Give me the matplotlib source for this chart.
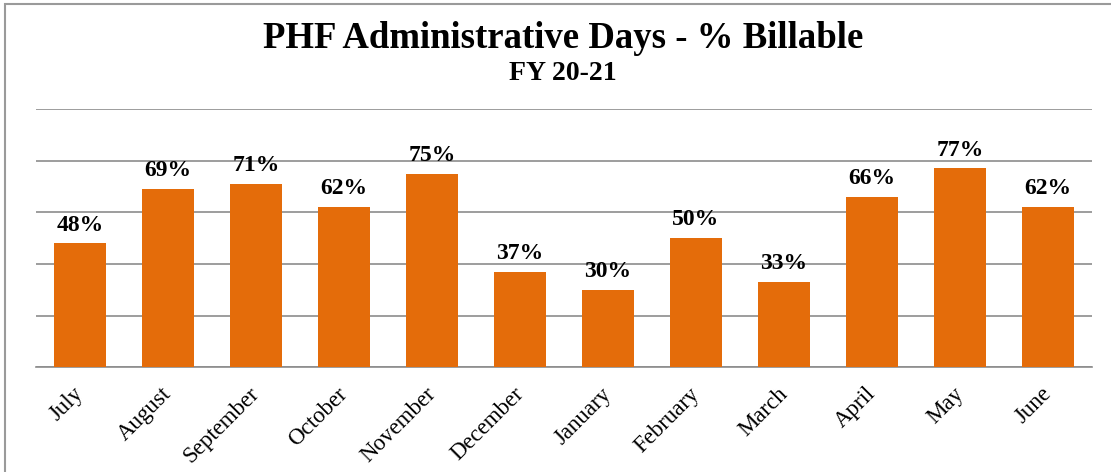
import matplotlib.pyplot as plt
import matplotlib.transforms as mtransforms
from matplotlib.patches import Rectangle

months = ['July', 'August', 'September', 'October', 'November', 'December',
          'January', 'February', 'March', 'April', 'May', 'June']
billable = [48, 69, 71, 62, 75, 37, 30, 50, 33, 66, 77, 62]

plt.rcParams['font.family'] = ['Liberation Serif', 'DejaVu Serif']

fig = plt.figure(figsize=(11.11, 4.72), dpi=100)
ax = fig.add_axes([0.0324, 0.2214, 0.9505, 0.5477])

x = range(len(months))
bars = ax.bar(x, billable, width=0.58, color='#E46C0A', zorder=3)

# value labels above each bar
for xi, v in zip(x, billable):
    ax.text(xi, v + 3, f'{v}%', ha='center', va='bottom',
            fontsize=17, fontweight='bold', zorder=4)

ax.set_xlim(-0.5, len(months) - 0.5)
ax.set_ylim(0, 100)
ax.set_yticks([0, 20, 40, 60, 80, 100])
ax.yaxis.grid(True, color='#8c8c8c', linewidth=1.2, zorder=0)
ax.tick_params(axis='y', left=False, labelleft=False)
ax.tick_params(axis='x', bottom=False, pad=8)
ax.set_xticks(list(x))
ax.set_xticklabels(months, rotation=45, ha='right', va='top',
                   rotation_mode='anchor', fontsize=16.5)
# nudge the rotated month names a little to the left
shift = mtransforms.ScaledTranslation(-7 / 100, 0, fig.dpi_scale_trans)
for lbl in ax.get_xticklabels():
    lbl.set_transform(lbl.get_transform() + shift)
for s in ['top', 'right', 'left']:
    ax.spines[s].set_visible(False)
ax.spines['bottom'].set_color('#8c8c8c')
ax.spines['bottom'].set_linewidth(1.2)

fig.text(0.507, 0.918, 'PHF Administrative Days - % Billable', ha='center',
         va='center', fontsize=26.5, fontweight='bold')
fig.text(0.507, 0.845, 'FY 20-21', ha='center', va='center',
         fontsize=20, fontweight='bold')

# outer chart border
fig.patches.append(Rectangle((5 / 1111, -0.2), 1.5, 1.2 - 4 / 472,
                             transform=fig.transFigure, fill=False,
                             edgecolor='#9a9a9a', linewidth=1.5))

fig.savefig('out.png', dpi=100)
